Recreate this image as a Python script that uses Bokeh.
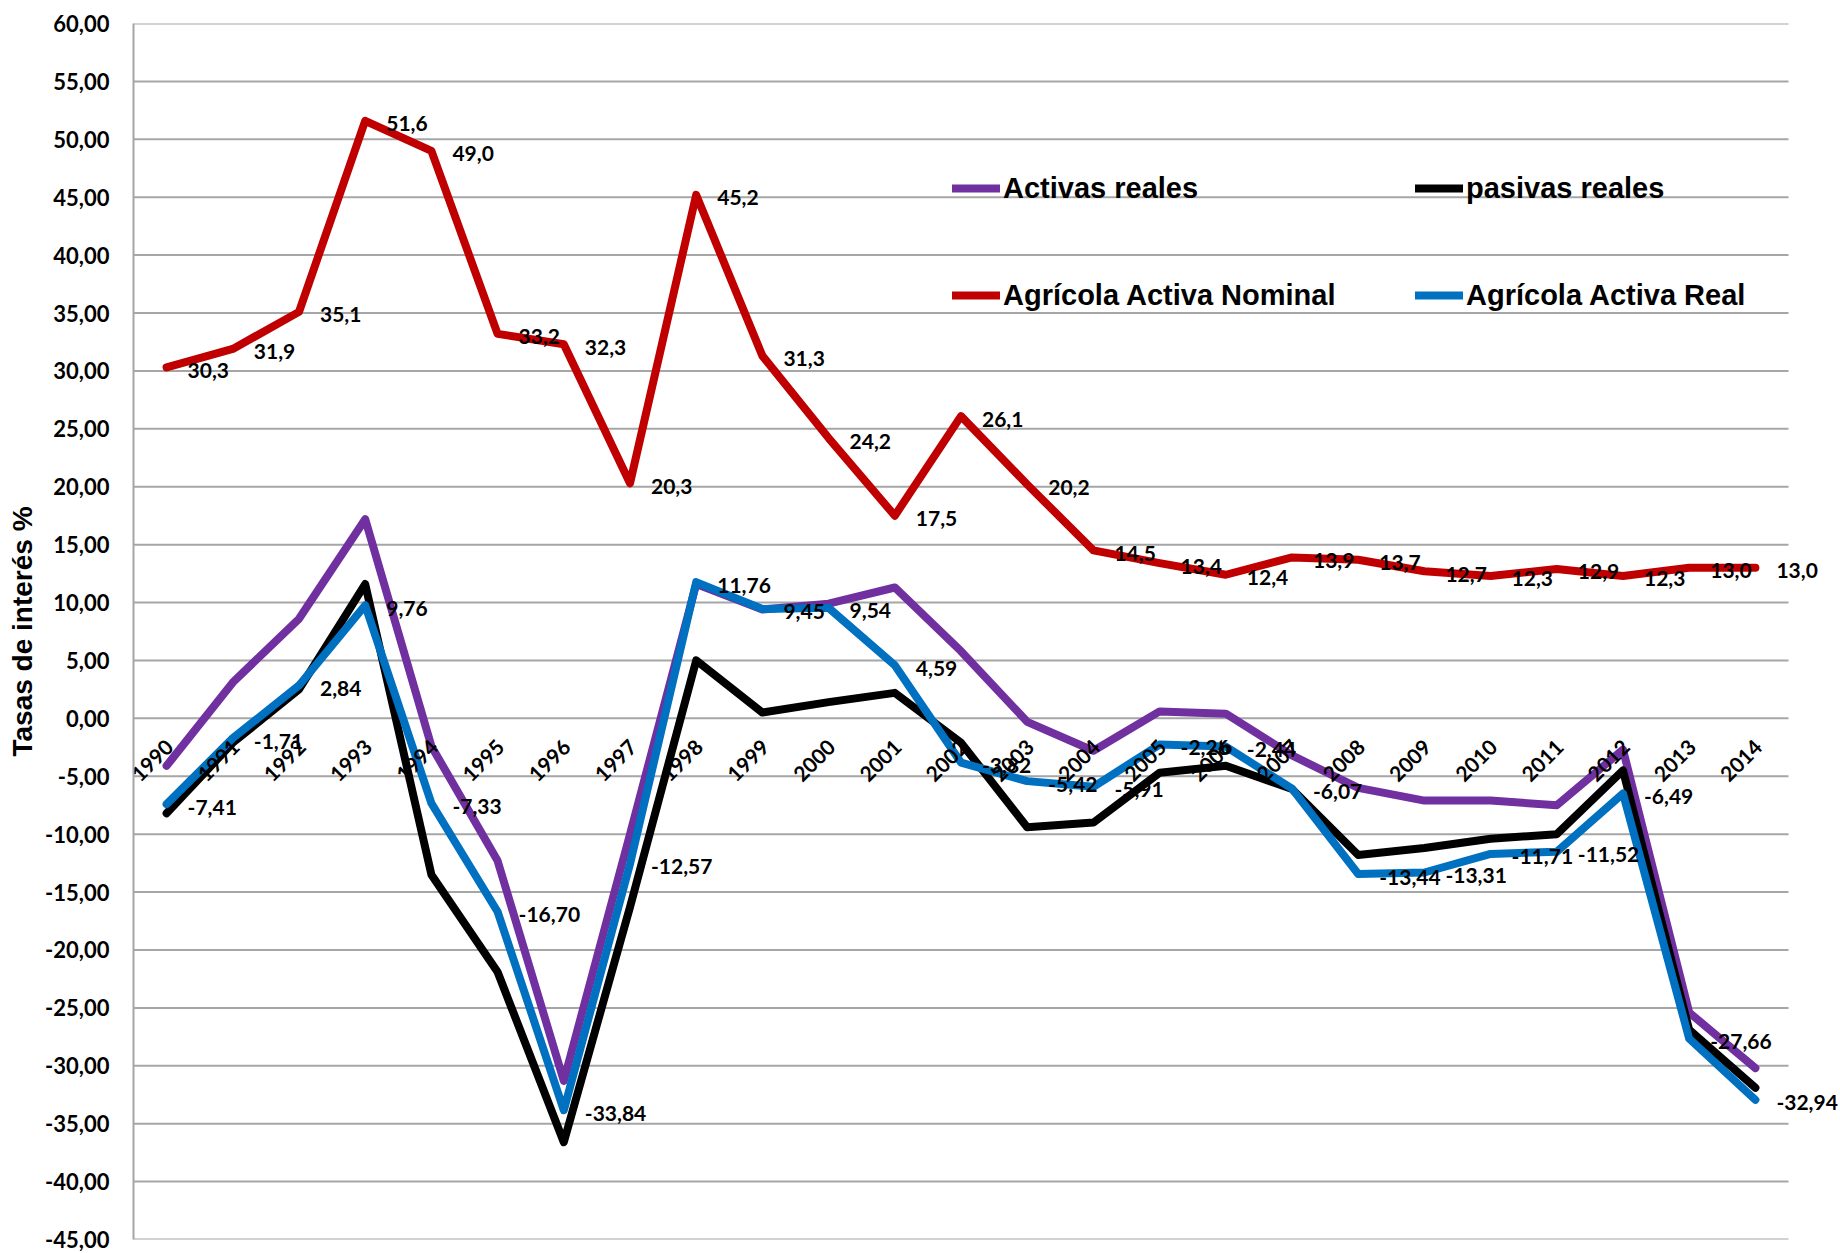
import numpy as np
from bokeh.plotting import figure
from bokeh.models import (Range1d, FixedTicker, CustomJSTickFormatter, Legend,
                          LegendItem, ColumnDataSource)
from bokeh.core.properties import value
from bokeh.embed import file_html
from bokeh.resources import INLINE

# ---------------- data ----------------
years = [str(y) for y in range(1990, 2015)]

activas_reales = [-4.1, 3.1, 8.6, 17.2, -2.4, -12.3, -31.3, -10.0, 11.6, 9.4,
                  9.9, 11.3, 5.8, -0.3, -2.8, 0.6, 0.4, -3.2, -6.0, -7.1,
                  -7.1, -7.5, -2.7, -25.4, -30.2]

pasivas_reales = [-8.2, -2.1, 2.5, 11.6, -13.5, -21.9, -36.6, -16.3, 5.0, 0.5,
                  1.4, 2.2, -2.1, -9.4, -9.0, -4.7, -4.1, -6.1, -11.8, -11.2,
                  -10.4, -10.0, -4.5, -26.9, -31.9]

agricola_nominal = [30.3, 31.9, 35.1, 51.6, 49.0, 33.2, 32.3, 20.3, 45.2, 31.3,
                    24.2, 17.5, 26.1, 20.2, 14.5, 13.4, 12.4, 13.9, 13.7, 12.7,
                    12.3, 12.9, 12.3, 13.0, 13.0]

agricola_real = [-7.41, -1.71, 2.84, 9.76, -7.33, -16.70, -33.84, -12.57, 11.76, 9.45,
                 9.54, 4.59, -3.82, -5.42, -5.91, -2.26, -2.44, -6.07, -13.44, -13.31,
                 -11.71, -11.52, -6.49, -27.66, -32.94]

y_ticks = list(range(-45, 61, 5))

series_names = ["Activas reales", "pasivas reales",
                "Agrícola Activa Nominal", "Agrícola Activa Real"]


def fmt(v, d):
    return f"{v:.{d}f}".replace(".", ",")


# ---------------- layout ----------------
n = len(years)
idx = list(range(n))

W, H = 1840, 1253
LEFT, TOP, BOTTOM = 133, 23, 14
plot_px = 1655          # pixel width of the category area (gridlines)
frame_w = W - LEFT
x_end = -0.5 + n * frame_w / plot_px

p = figure(width=W, height=H, output_backend="svg", toolbar_location=None,
           x_range=Range1d(-0.5, x_end), y_range=Range1d(-45, 60),
           min_border_left=LEFT, min_border_right=0,
           min_border_top=TOP, min_border_bottom=BOTTOM)

p.outline_line_color = None
p.xaxis.visible = False
p.xgrid.visible = False
p.ygrid.visible = False

GRID = "#a6a6a6"
LAB_FONT = value("Lato")

# gridlines across the category area only
p.segment(x0=[-0.5] * len(y_ticks), x1=[n - 0.5] * len(y_ticks),
          y0=y_ticks, y1=y_ticks, line_color=GRID, line_width=2)

yax = p.yaxis[0]
yax.ticker = FixedTicker(ticks=y_ticks)
yax.formatter = CustomJSTickFormatter(code="return tick.toFixed(2).replace('.', ',');")
yax.major_tick_line_color = None
yax.minor_tick_line_color = None
yax.major_tick_out = 0
yax.major_tick_in = 0
yax.axis_line_color = GRID
yax.axis_line_width = 2
yax.major_label_standoff = 24
yax.major_label_text_font = "Lato"
yax.major_label_text_font_style = "bold"
yax.major_label_text_font_size = "22px"
yax.major_label_text_color = "black"
yax.axis_label = "Tasas de interés %"
yax.axis_label_text_font = "Liberation Sans"
yax.axis_label_text_font_style = "bold"
yax.axis_label_text_font_size = "28px"
yax.axis_label_text_color = "black"
yax.axis_label_standoff = 4

LW = 8
common = dict(line_width=LW, line_join="round", line_cap="round")
r_act = p.line(idx, activas_reales, line_color="#7030A0", **common)
r_pas = p.line(idx, pasivas_reales, line_color="#000000", **common)
r_nom = p.line(idx, agricola_nominal, line_color="#C00000", **common)
r_real = p.line(idx, agricola_real, line_color="#0070C0", **common)

# category labels sitting under the zero line, rotated
p.text(x=idx, y=[0] * n, text=years, angle=np.pi / 4,
       text_align="right", text_baseline="middle", x_offset=3, y_offset=25,
       text_font=LAB_FONT, text_font_style="bold", text_font_size="21px",
       text_color="black")

# data labels
src_nom = ColumnDataSource(dict(x=idx, y=agricola_nominal,
                                t=[fmt(v, 1) for v in agricola_nominal]))
src_real = ColumnDataSource(dict(x=idx, y=agricola_real,
                                 t=[fmt(v, 2) for v in agricola_real]))
for src in (src_nom, src_real):
    p.text(x="x", y="y", text="t", source=src, x_offset=21, y_offset=3,
           text_align="left", text_baseline="middle",
           text_font=LAB_FONT, text_font_style="bold", text_font_size="21px",
           text_color="black")

# legend: two columns, two rows
leg_common = dict(orientation="vertical", spacing=73, padding=0, margin=0,
                  border_line_color=None, background_fill_alpha=0,
                  glyph_width=48, glyph_height=34, label_height=34,
                  label_standoff=3, label_text_font="Liberation Sans",
                  label_text_font_style="bold", label_text_font_size="29px",
                  label_text_color="black")
leg1 = Legend(items=[LegendItem(label=series_names[0], renderers=[r_act]),
                     LegendItem(label=series_names[2], renderers=[r_nom])],
              location=(819, 927), **leg_common)
leg2 = Legend(items=[LegendItem(label=series_names[1], renderers=[r_pas]),
                     LegendItem(label=series_names[3], renderers=[r_real])],
              location=(1282, 927), **leg_common)
p.add_layout(leg1)
p.add_layout(leg2)

open("out.html", "w").write(file_html(p, INLINE))
